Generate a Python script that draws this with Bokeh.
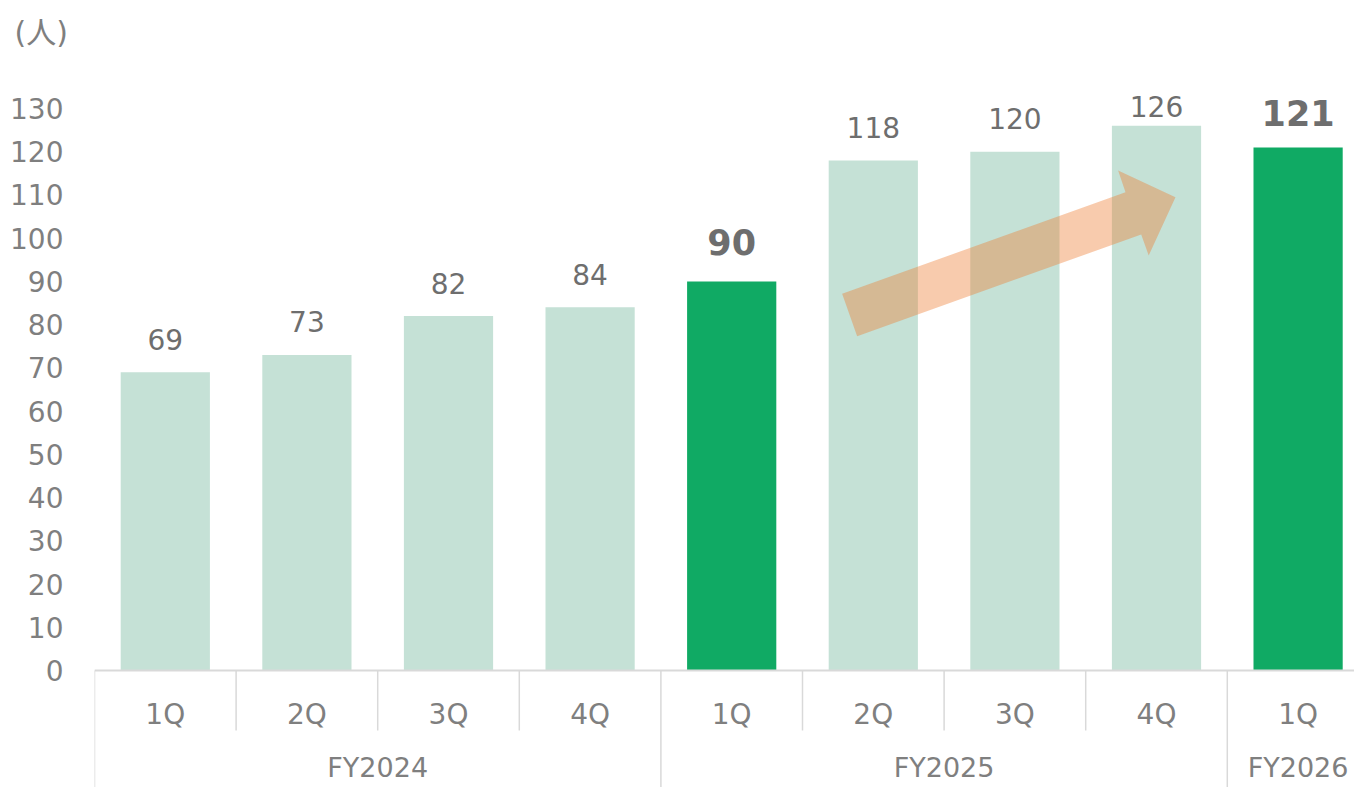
from bokeh.plotting import figure
from bokeh.models import Range1d, FixedTicker, ColumnDataSource
from bokeh.core.properties import value
from bokeh.embed import file_html
from bokeh.resources import INLINE

# ---- data ----
years = ["FY2024", "FY2024", "FY2024", "FY2024",
         "FY2025", "FY2025", "FY2025", "FY2025", "FY2026"]
quarters = ["1Q", "2Q", "3Q", "4Q", "1Q", "2Q", "3Q", "4Q", "1Q"]
employees = [69, 73, 82, 84, 90, 118, 120, 126, 121]
highlighted = [("FY2025", "1Q"), ("FY2026", "1Q")]
y_ticks = [0, 10, 20, 30, 40, 50, 60, 70, 80, 90, 100, 110, 120, 130]
unit_label = "(人)"

# ---- style ----
FONT = "DejaVu Sans"
LIGHT = "#c5e1d6"
DARK = "#10aa64"
AXIS_TXT = "#7f7f7f"
LBL_TXT = "#6e6e6e"
GRID = "#d9d9d9"
PX = 562 / 130.0  # pixels per unit
W, H = 1354, 787
LEFT, TOP, ZERO = 94, 60, 670
CAT_W = 141.6

n = len(employees)
xs = [i + 0.5 for i in range(n)]
is_hi = [(years[i], quarters[i]) in highlighted for i in range(n)]
colors = [DARK if h else LIGHT for h in is_hi]

p = figure(width=W, height=H,
           x_range=Range1d(0, (W - LEFT) / CAT_W),
           y_range=Range1d((ZERO - H) / PX, (ZERO - TOP) / PX),
           output_backend="svg", toolbar_location=None,
           x_axis_location=None, y_axis_location="left",
           min_border_left=LEFT, min_border_right=0,
           min_border_top=TOP, min_border_bottom=0)
p.outline_line_color = None
p.grid.visible = False
p.background_fill_color = "white"

p.title.text = unit_label
p.title.align = "left"
p.title.offset = -80
p.title.standoff = 22
p.title.text_font = "DejaVu Sans, Noto Sans CJK JP"
p.title.text_font_size = "30px"
p.title.text_font_style = "normal"
p.title.text_color = AXIS_TXT

ya = p.yaxis[0]
ya.ticker = FixedTicker(ticks=y_ticks)
ya.axis_line_color = None
ya.major_tick_line_color = None
ya.minor_tick_line_color = None
ya.major_tick_out = 0
ya.major_tick_in = 0
ya.major_label_standoff = 31
ya.major_label_text_font = FONT
ya.major_label_text_font_size = "28px"
ya.major_label_text_color = AXIS_TXT

# bars
src = ColumnDataSource(dict(x=xs, top=employees, color=colors))
p.vbar(x="x", top="top", bottom=0, width=0.63, fill_color="color",
       line_color=None, source=src)

# trend arrow (decoration)
arrow_x = [5.280, 7.281, 7.229, 7.634, 7.445, 7.392, 5.386]
arrow_y = [87.14, 110.64, 115.66, 109.48, 96.0, 100.86, 77.33]
p.patch(arrow_x, arrow_y, fill_color="#ed7d31", fill_alpha=0.4, line_color=None)

# data labels (kept inside plot area at top, as Excel does)
norm_x, norm_y, norm_t = [], [], []
bold_x, bold_y, bold_t = [], [], []
for i in range(n):
    v = employees[i]
    if is_hi[i]:
        bold_x.append(xs[i]); bold_t.append(str(v))
        bold_y.append(min(v + 39 / PX, 128.9))
    else:
        norm_x.append(xs[i]); norm_t.append(str(v))
        norm_y.append(min(v + 33 / PX, 130.5))
p.text(norm_x, norm_y, text=norm_t, text_font=value(FONT), text_font_size="28px",
       text_color=LBL_TXT, text_align="center", text_baseline="middle")
p.text(bold_x, bold_y, text=bold_t, text_font=value(FONT), text_font_size="35px",
       text_font_style="bold", text_color=LBL_TXT, text_align="center",
       text_baseline="middle")

# category axis: line, separators, labels
p.segment(x0=[0], y0=[0], x1=[(W - LEFT) / CAT_W], y1=[0], line_color=GRID, line_width=2)
q_sep = [i for i in range(1, n) if years[i] == years[i - 1]]
y_sep = [0] + [i for i in range(1, n) if years[i] != years[i - 1]]
p.segment(x0=q_sep, y0=[0] * len(q_sep), x1=q_sep, y1=[-60 / PX] * len(q_sep),
          line_color=GRID, line_width=1.5)
p.segment(x0=y_sep, y0=[0] * len(y_sep), x1=y_sep, y1=[-30] * len(y_sep),
          line_color=GRID, line_width=1.5)

p.text(xs, [-44 / PX] * n, text=quarters, text_font=value(FONT),
       text_font_size="28px", text_color=AXIS_TXT, text_align="center",
       text_baseline="middle")
uniq = []
for y in years:
    if y not in uniq:
        uniq.append(y)
yc = []
for y in uniq:
    idx = [xs[i] for i in range(n) if years[i] == y]
    yc.append(sum(idx) / len(idx))
p.text(yc, [-97 / PX] * len(uniq), text=uniq, text_font=value(FONT),
       text_font_size="27px", text_color=AXIS_TXT, text_align="center",
       text_baseline="middle")

open("out.html", "w").write(file_html(p, INLINE))
